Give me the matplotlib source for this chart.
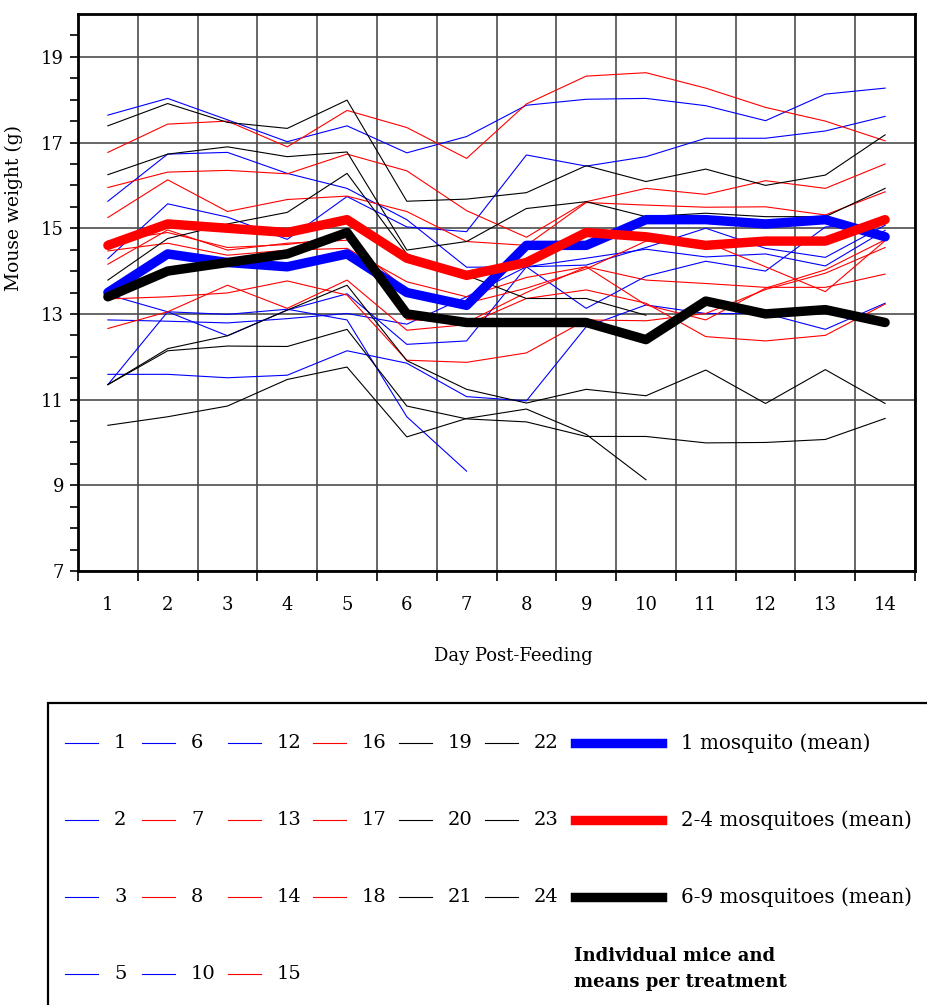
import matplotlib.pyplot as plt
import numpy as np
from matplotlib.lines import Line2D
from matplotlib.patches import Rectangle

plt.rcParams['font.family'] = ['DejaVu Serif']

days = np.arange(1, 15)
nan = np.nan

# individual mice (weights in g, day 1..14)
blue_ids = ["1", "2", "3", "5", "6", "10", "12"]
blue_mice = [
    [17.64, 18.03, 17.53, 17.02, 17.39, 16.76, 17.14, 17.87, 18.01, 18.03, 17.86, 17.51, 18.13, 18.27],
    [14.29, 15.57, 15.26, 14.74, 15.74, 15.03, 14.92, 16.71, 16.45, 16.67, 17.10, 17.10, 17.27, 17.61],
    [15.63, 16.73, 16.77, 16.28, 15.93, 15.20, 14.09, 14.10, 14.14, 14.55, 15.00, 14.53, 14.32, 15.07],
    [11.35, 13.05, 12.49, 13.09, 13.47, 12.29, 12.37, 14.10, 13.13, 13.88, 14.23, 14.00, 15.03, 15.10],
    [12.86, 12.83, 12.79, 12.89, 13.01, 12.76, 13.40, 14.10, 14.30, 14.51, 14.33, 14.40, 14.12, 14.95],
    [13.45, 13.05, 12.99, 13.11, 12.86, 10.60, 9.33, nan, nan, nan, nan, nan, nan, nan],
    [11.59, 11.59, 11.51, 11.57, 12.14, 11.85, 11.07, 10.97, 12.70, 13.21, 13.01, 13.01, 12.64, 13.25],
]
red_ids = ["7", "8", "13", "14", "15", "16", "17", "18"]
red_mice = [
    [16.77, 17.43, 17.50, 16.90, 17.75, 17.35, 16.63, 17.90, 18.55, 18.63, 18.27, 17.82, 17.50, 17.04],
    [15.95, 16.31, 16.35, 16.27, 16.73, 16.34, 15.41, 14.79, 15.62, 15.93, 15.79, 16.11, 15.93, 16.50],
    [15.25, 16.13, 15.39, 15.67, 15.75, 15.39, 14.69, 14.60, 15.60, 15.54, 15.49, 15.50, 15.31, 15.85],
    [14.47, 14.65, 14.37, 14.49, 14.53, 13.75, 13.40, 13.85, 14.10, 13.79, 13.71, 13.62, 13.62, 13.93],
    [14.16, 14.96, 14.49, 14.65, 14.72, 13.56, 13.25, 13.60, 14.05, 14.70, 14.68, 14.10, 13.52, 14.71],
    [13.35, 13.40, 13.49, 13.77, 13.44, 11.92, 11.87, 12.09, 12.86, 12.84, 13.01, 13.57, 13.95, 14.55],
    [12.66, 13.05, 13.67, 13.13, 13.79, 12.62, 12.75, 13.36, 13.56, 13.25, 12.47, 12.37, 12.50, 13.23],
    [14.70, 14.90, 14.55, 14.62, 14.80, 12.87, 12.80, 13.50, 14.10, 13.21, 12.86, 13.60, 14.03, 14.73],
]
black_ids = ["19", "20", "21", "22", "23", "24"]
black_mice = [
    [17.39, 17.91, 17.47, 17.33, 17.99, 15.63, 15.68, 15.83, 16.46, 16.09, 16.38, 16.00, 16.24, 17.18],
    [16.25, 16.73, 16.90, 16.67, 16.78, 14.49, 14.69, 15.46, 15.62, 15.27, 15.35, 15.27, 15.27, 15.93],
    [13.79, 14.76, 15.10, 15.37, 16.28, 14.40, 13.90, 13.36, 13.36, 12.97, nan, nan, nan, nan],
    [11.35, 12.19, 12.49, 13.09, 13.67, 11.91, 11.24, 10.92, 11.24, 11.09, 11.69, 10.91, 11.70, 10.91],
    [11.35, 12.14, 12.25, 12.24, 12.64, 10.85, 10.55, 10.48, 10.14, 10.14, 9.99, 10.00, 10.07, 10.56],
    [10.40, 10.60, 10.85, 11.47, 11.76, 10.13, 10.56, 10.78, 10.19, 9.13, nan, nan, nan, nan],
]

# treatment means
mean_labels = ["1 mosquito (mean)", "2-4 mosquitoes (mean)", "6-9 mosquitoes (mean)"]
mean_1 = [13.5, 14.4, 14.2, 14.1, 14.4, 13.5, 13.2, 14.6, 14.6, 15.2, 15.2, 15.1, 15.2, 14.8]
mean_2_4 = [14.6, 15.1, 15.0, 14.9, 15.2, 14.3, 13.9, 14.2, 14.9, 14.8, 14.6, 14.7, 14.7, 15.2]
mean_6_9 = [13.4, 14.0, 14.2, 14.4, 14.9, 13.0, 12.8, 12.8, 12.8, 12.4, 13.3, 13.0, 13.1, 12.8]

legend_cols = [["1", "2", "3", "5"], ["6", "7", "8", "10"], ["12", "13", "14", "15"],
               ["16", "17", "18"], ["19", "20", "21"], ["22", "23", "24"]]

fig = plt.figure(figsize=(9.27, 10.05), dpi=100)
ax = fig.add_axes([78 / 927, 1 - 571 / 1005, 837 / 927, 557 / 1005])

mouse_style = {}
for ids, mice, col in [(blue_ids, blue_mice, "#0000ff"),
                       (red_ids, red_mice, "#ff0000"),
                       (black_ids, black_mice, "#000000")]:
    for mid, w in zip(ids, mice):
        ax.plot(days, w, color=col, lw=0.8, zorder=3)
        mouse_style[mid] = col

mean_colors = ["#0000ff", "#ff0000", "#000000"]
for w, col in zip([mean_1, mean_2_4, mean_6_9], mean_colors):
    ax.plot(days, w, color=col, lw=6.8, solid_capstyle="round",
            solid_joinstyle="round", zorder=4)

ax.set_xlim(0.5, 14.5)
ax.set_ylim(7, 20)
ax.set_xticks(np.arange(0.5, 15, 1))
ax.set_xticklabels([])
ax.set_xticks(days, minor=True)
ax.set_xticklabels([str(d) for d in days], minor=True)
ax.tick_params(axis="x", which="major", length=7, width=1.2, direction="out")
ax.tick_params(axis="x", which="minor", length=0, pad=18, labelsize=13)
ax.set_yticks(np.arange(7, 20, 2))
ax.set_yticks(np.arange(7.5, 20, 0.5), minor=True)
ax.tick_params(axis="y", which="both", length=6, width=1.2, direction="out",
               labelsize=13, pad=4)
ax.grid(True, which="major", color="#4d4d4d", lw=1.2, zorder=1)
for s in ax.spines.values():
    s.set_linewidth(2)

ax.set_ylabel("Mouse weight (g)", fontsize=13.5)
ax.yaxis.set_label_coords(-0.066, 0.652)
fig.text(513 / 927, 1 - 656 / 1005, "Day Post-Feeding", ha="center",
         va="center", fontsize=13)

# legend box, cut off by the figure edge like in the original
fig.patches.append(Rectangle((48 / 927, -0.05), 1.0, 1 - 703 / 1005 + 0.05,
                             transform=fig.transFigure, fill=False,
                             edgecolor="black", lw=1.6))

rows = [743, 820, 897, 974]
col_x = [65, 142, 228, 313, 399, 485]
for cx, entries in zip(col_x, legend_cols):
    for ry, mid in zip(rows, entries):
        yf = 1 - ry / 1005
        fig.lines.append(Line2D([cx / 927, (cx + 33) / 927], [yf, yf],
                                transform=fig.transFigure,
                                color=mouse_style[mid], lw=0.8))
        fig.text((cx + 49) / 927, yf, mid, va="center", fontsize=14)

for ry, lab, col in zip(rows, mean_labels, mean_colors):
    yf = 1 - ry / 1005
    fig.lines.append(Line2D([575 / 927, 662 / 927], [yf, yf],
                            transform=fig.transFigure, color=col, lw=6.8))
    fig.text(681 / 927, yf, lab, va="center", fontsize=14.3)

fig.text(574 / 927, 1 - 969 / 1005, "Individual mice and\nmeans per treatment",
         va="center", ha="left", fontsize=13, fontweight="bold",
         linespacing=1.55)

fig.savefig("out.png", dpi=100)
